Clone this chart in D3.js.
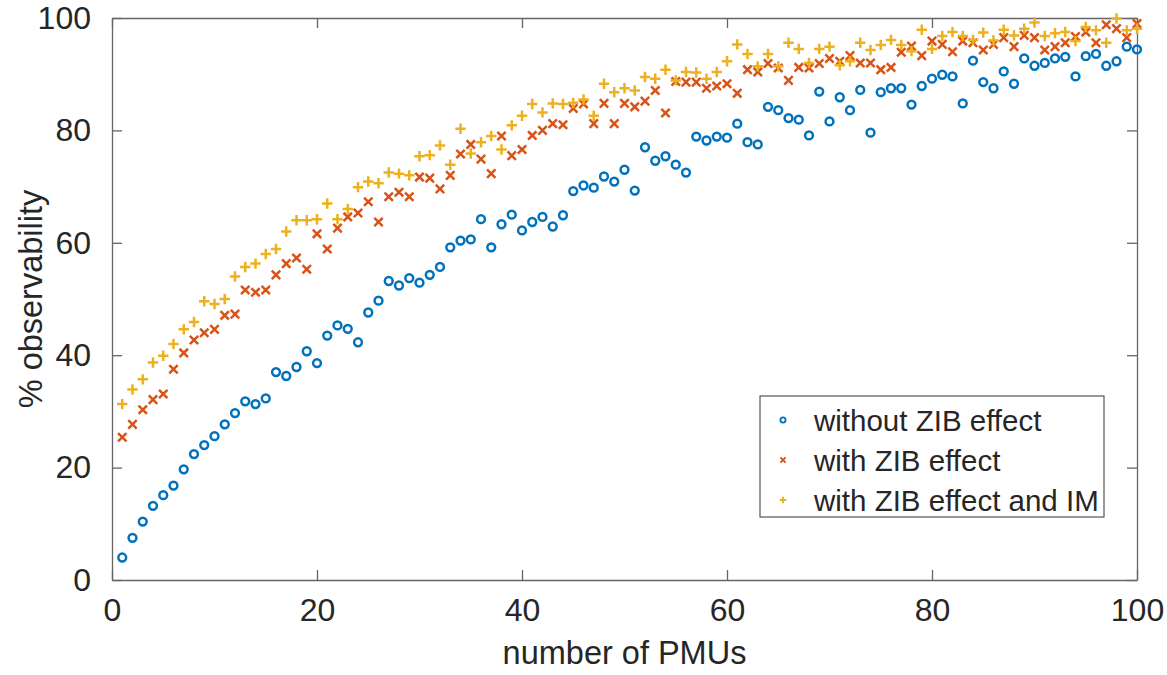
<!DOCTYPE html>
<html>
<head>
<meta charset="utf-8">
<title>observability vs PMUs</title>
<style>
  body { margin: 0; background: #fff; }
  text { font-family: "Liberation Sans", Arial, Helvetica, sans-serif; fill: #262626; }
</style>
</head>
<body>
<script src="https://cdn.jsdelivr.net/npm/d3@7"></script>
<script>
// number of PMUs 1..100
var pmus = d3.range(1, 101);

// % observability, without ZIB effect
var withoutZIB = [4.0, 7.5, 10.4, 13.2, 15.1, 16.8, 19.7, 22.4, 24.0, 25.6,
  27.7, 29.7, 31.8, 31.3, 32.3, 37.0, 36.3, 37.9, 40.7, 38.6,
  43.5, 45.3, 44.7, 42.3, 47.6, 49.7, 53.2, 52.4, 53.7, 52.9,
  54.3, 55.7, 59.2, 60.4, 60.6, 64.2, 59.2, 63.3, 65.0, 62.2,
  63.7, 64.6, 62.9, 64.9, 69.2, 70.2, 69.8, 71.8, 70.9, 73.0,
  69.3, 77.0, 74.6, 75.4, 73.9, 72.5, 78.9, 78.2, 78.9, 78.7,
  81.2, 77.9, 77.5, 84.2, 83.6, 82.2, 81.9, 79.1, 86.9, 81.6,
  85.9, 83.6, 87.2, 79.6, 86.8, 87.5, 87.5, 84.6, 87.9, 89.2,
  89.9, 89.6, 84.8, 92.4, 88.6, 87.5, 90.5, 88.3, 92.8, 91.5,
  92.0, 92.8, 93.1, 89.6, 93.2, 93.6, 91.5, 92.3, 94.9, 94.4];

// with ZIB effect
var withZIB = [25.4, 27.7, 30.3, 32.1, 33.1, 37.5, 40.4, 42.7, 44.0, 44.6,
  47.1, 47.3, 51.6, 51.2, 51.6, 54.3, 56.3, 57.3, 55.3, 61.6,
  58.9, 62.6, 64.6, 65.3, 67.3, 63.7, 68.2, 69.0, 68.2, 71.7,
  71.5, 69.6, 72.0, 75.8, 77.5, 74.9, 72.3, 79.0, 75.5, 76.6,
  79.1, 80.0, 81.2, 81.0, 83.9, 84.7, 81.2, 84.8, 81.2, 84.8,
  84.2, 85.2, 87.1, 83.1, 88.7, 88.6, 88.6, 87.5, 87.9, 88.3,
  86.6, 90.8, 90.4, 91.9, 91.1, 88.9, 91.2, 91.1, 91.9, 92.8,
  92.3, 93.3, 92.0, 92.0, 90.8, 91.2, 93.9, 95.0, 93.3, 95.9,
  95.3, 94.0, 95.9, 95.6, 94.3, 95.3, 96.5, 94.9, 96.9, 96.5,
  94.3, 94.9, 95.6, 96.7, 97.5, 95.6, 98.8, 98.1, 96.5, 99.0];

// with ZIB effect and IM
var withZIBIM = [31.3, 33.9, 35.7, 38.7, 39.9, 42.0, 44.6, 45.9, 49.6, 49.1,
  50.0, 54.0, 55.7, 56.3, 58.0, 58.9, 62.0, 64.0, 64.0, 64.2,
  67.0, 64.2, 66.0, 69.9, 70.9, 70.6, 72.5, 72.3, 72.0, 75.4,
  75.6, 77.3, 73.9, 80.3, 75.9, 77.9, 79.0, 76.6, 80.9, 82.6,
  84.7, 83.2, 84.8, 84.7, 84.9, 85.5, 82.6, 88.3, 86.8, 87.5,
  87.1, 89.5, 89.2, 90.8, 88.9, 90.4, 90.3, 89.2, 90.4, 92.3,
  95.3, 93.6, 91.4, 93.6, 91.4, 95.6, 94.5, 92.0, 94.5, 94.9,
  91.6, 92.3, 95.6, 94.3, 95.2, 96.1, 95.2, 94.1, 97.9, 94.5,
  96.8, 97.5, 96.8, 96.1, 97.4, 96.0, 97.9, 96.9, 98.1, 99.2,
  96.8, 97.3, 97.5, 95.9, 98.4, 97.8, 95.6, 99.9, 97.8, 98.1];

var seriesNames = ["without ZIB effect", "with ZIB effect", "with ZIB effect and IM"];
var xTicks = [0, 20, 40, 60, 80, 100];
var yTicks = [0, 20, 40, 60, 80, 100];

var width = 1167, height = 675;
var margin = {left: 112, right: 30, top: 18, bottom: 95};

var svg = d3.select("body").append("svg")
    .attr("width", width)
    .attr("height", height);

var x = d3.scaleLinear().domain([0, 100]).range([margin.left, width - margin.right]);
var y = d3.scaleLinear().domain([0, 100]).range([height - margin.bottom, margin.top]);

var axisColor = "#666";
var tickLen = 10;

// axes, MATLAB style: ticks inside, box around
function styleAxis(g) {
  g.select(".domain").attr("stroke", axisColor).attr("stroke-width", 1.3);
  g.selectAll(".tick line").attr("stroke", axisColor).attr("stroke-width", 1.3);
  g.selectAll(".tick text").attr("font-size", 32).attr("fill", "#262626");
}

svg.append("g")
    .attr("transform", "translate(0," + y(0) + ")")
    .call(d3.axisBottom(x).tickValues(xTicks).tickSizeInner(-tickLen).tickSizeOuter(0).tickPadding(18))
    .call(styleAxis);
svg.append("g")
    .attr("transform", "translate(0," + y(100) + ")")
    .call(d3.axisTop(x).tickValues(xTicks).tickSizeInner(-tickLen).tickSizeOuter(0).tickFormat(""))
    .call(styleAxis);
svg.append("g")
    .attr("transform", "translate(" + x(0) + ",0)")
    .call(d3.axisLeft(y).tickValues(yTicks).tickSizeInner(-tickLen).tickSizeOuter(0).tickPadding(21))
    .call(styleAxis);
svg.append("g")
    .attr("transform", "translate(" + x(100) + ",0)")
    .call(d3.axisRight(y).tickValues(yTicks).tickSizeInner(-tickLen).tickSizeOuter(0).tickFormat(""))
    .call(styleAxis);

// axis labels
svg.append("text")
    .attr("x", (x(0) + x(100)) / 2)
    .attr("y", 664)
    .attr("text-anchor", "middle")
    .attr("font-size", 32.5)
    .text("number of PMUs");
svg.append("text")
    .attr("transform", "translate(42," + y(50) + ") rotate(-90)")
    .attr("text-anchor", "middle")
    .attr("font-size", 32.5)
    .text("% observability");

var colors = ["#0072BD", "#D95319", "#EDB120"];

// marker drawers
function drawCircle(g, cx, cy, r, sw, c) {
  g.append("circle").attr("cx", cx).attr("cy", cy).attr("r", r)
    .attr("fill", "none").attr("stroke", c).attr("stroke-width", sw);
}
function drawX(g, cx, cy, s, sw, c) {
  g.append("path")
    .attr("d", "M" + (cx - s) + "," + (cy - s) + "L" + (cx + s) + "," + (cy + s) +
               "M" + (cx - s) + "," + (cy + s) + "L" + (cx + s) + "," + (cy - s))
    .attr("stroke", c).attr("stroke-width", sw).attr("fill", "none");
}
function drawPlus(g, cx, cy, s, sw, c) {
  g.append("path")
    .attr("d", "M" + (cx - s) + "," + cy + "L" + (cx + s) + "," + cy +
               "M" + cx + "," + (cy - s) + "L" + cx + "," + (cy + s))
    .attr("stroke", c).attr("stroke-width", sw).attr("fill", "none");
}

var gBlue = svg.append("g");
var gRed = svg.append("g");
var gYel = svg.append("g");
pmus.forEach(function (p, i) {
  drawCircle(gBlue, x(p), y(withoutZIB[i]), 3.9, 2.5, colors[0]);
});
pmus.forEach(function (p, i) {
  drawX(gRed, x(p), y(withZIB[i]), 4.2, 2.5, colors[1]);
});
pmus.forEach(function (p, i) {
  drawPlus(gYel, x(p), y(withZIBIM[i]), 5.2, 2.5, colors[2]);
});

// legend
var lg = svg.append("g");
lg.append("rect")
    .attr("x", 760).attr("y", 396).attr("width", 344).attr("height", 121)
    .attr("fill", "#fff").attr("stroke", "#333").attr("stroke-width", 1);
var rowY = [420, 460, 500];
drawCircle(lg, 783, rowY[0], 2.6, 1.8, colors[0]);
drawX(lg, 783, rowY[1], 2.6, 1.9, colors[1]);
drawPlus(lg, 783, rowY[2], 3.3, 1.9, colors[2]);
seriesNames.forEach(function (n, i) {
  lg.append("text")
    .attr("x", 814)
    .attr("y", rowY[i])
    .attr("dy", "0.36em")
    .attr("font-size", 29.5)
    .text(n);
});
</script>
</body>
</html>
